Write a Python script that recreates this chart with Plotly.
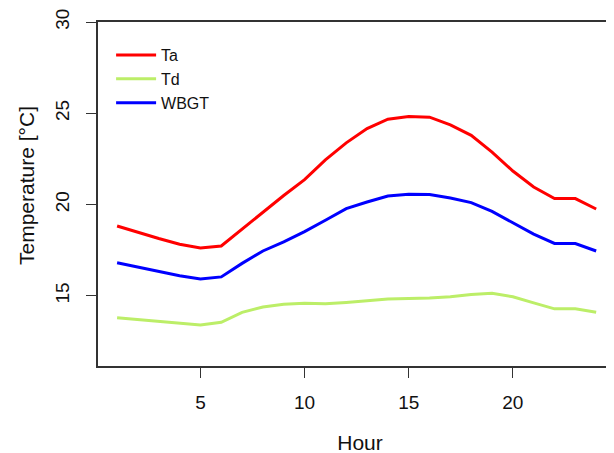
import plotly.graph_objects as go

hours = list(range(1, 25))
ta = [18.83, 18.47, 18.14, 17.83, 17.62, 17.73, 18.66, 19.6, 20.5, 21.37,
      22.45, 23.38, 24.16, 24.68, 24.83, 24.79, 24.37, 23.79, 22.87, 21.84,
      20.96, 20.33, 20.33, 19.76]
td = [13.80, 13.69, 13.62, 13.51, 13.40, 13.55, 14.10, 14.39, 14.54, 14.59,
      14.57, 14.64, 14.72, 14.83, 14.86, 14.88, 14.95, 15.08, 15.14, 14.95,
      14.62, 14.29, 14.29, 14.10]
wbgt = [16.81, 16.56, 16.32, 16.10, 15.92, 16.04, 16.78, 17.46, 17.96, 18.52,
        19.14, 19.78, 20.14, 20.47, 20.56, 20.55, 20.36, 20.11, 19.63, 19.00,
        18.38, 17.87, 17.87, 17.46]

x_ticks = [5, 10, 15, 20]
y_ticks = [15, 20, 25, 30]

FONT = "Liberation Sans, Arial, Helvetica, sans-serif"

fig = go.Figure()
fig.add_trace(go.Scatter(x=hours, y=ta, mode="lines", name="Ta",
                         line=dict(color="#FF0000", width=3)))
fig.add_trace(go.Scatter(x=hours, y=td, mode="lines", name="Td",
                         line=dict(color="#BCEE68", width=3)))
fig.add_trace(go.Scatter(x=hours, y=wbgt, mode="lines", name="WBGT",
                         line=dict(color="#0000FF", width=3)))

fig.update_layout(
    width=614, height=453,
    margin=dict(l=90, r=0, t=14, b=95, autoexpand=False),
    paper_bgcolor="white", plot_bgcolor="white",
    font=dict(family=FONT, size=19, color="#111111"),
    showlegend=True,
    legend=dict(x=0.025, y=0.953, xanchor="left", yanchor="top",
                bgcolor="rgba(0,0,0,0)", font=dict(size=16),
                tracegroupgap=0, itemwidth=40),
    xaxis=dict(range=[0.083, 25.24], tickvals=x_ticks, ticks="outside",
               ticklen=10, tickwidth=1, tickcolor="#333333",
               showline=True, linecolor="#333333", linewidth=1.5, mirror=True,
               showgrid=False, zeroline=False, automargin=False,
               ticklabelstandoff=8,
               title=dict(text="Hour", standoff=24, font=dict(size=21)),
               tickfont=dict(size=19)),
    yaxis=dict(range=[11.16, 30], tickvals=y_ticks, ticks="outside",
               ticklen=10, tickwidth=1, tickcolor="#333333",
               showline=True, linecolor="#333333", linewidth=1.5,
               showgrid=False, zeroline=False, automargin=False,
               tickangle=-90, ticklabelstandoff=10,
               tickfont=dict(size=19)),
    annotations=[dict(text="Temperature [°C]", xref="paper", yref="paper",
                      x=0, y=0.5233, xanchor="center", yanchor="middle",
                      xshift=-71, textangle=-90, showarrow=False,
                      font=dict(size=21))],
)

fig.write_html("out.html")
